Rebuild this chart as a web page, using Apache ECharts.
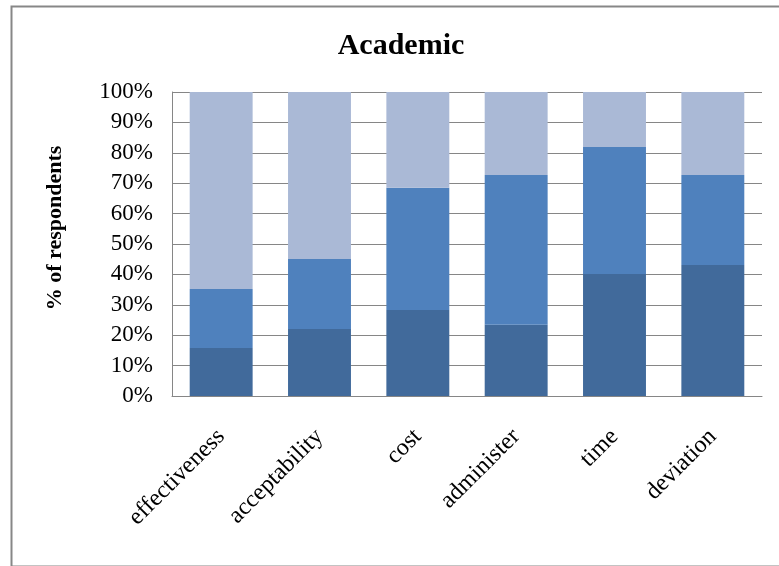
<!DOCTYPE html>
<html>
<head>
<meta charset="utf-8">
<style>
  html, body { margin: 0; padding: 0; background: #ffffff; }
  #chart { width: 779px; height: 566px; }
</style>
<script src="https://cdn.jsdelivr.net/npm/echarts@6/dist/echarts.min.js"></script>
</head>
<body>
<div id="chart"></div>
<script>
// Share of respondents per criterion, split into three stacked response groups
const categories = ['effectiveness', 'acceptability', 'cost', 'administer', 'time', 'deviation'];
const groupLow  = [15.8, 22.0, 28.3, 23.4, 40.1, 43.1];
const groupMid  = [19.4, 23.1, 40.2, 49.3, 41.8, 29.6];
const groupHigh = [64.8, 54.9, 31.5, 27.3, 18.1, 27.3];
const yTicks = [0, 10, 20, 30, 40, 50, 60, 70, 80, 90, 100];

const serif = "'Liberation Serif', 'Times New Roman', serif";
const gridGray = '#868686';

const chart = echarts.init(document.getElementById('chart'), null, { renderer: 'canvas' });

function stack(name, data, color) {
  return {
    name: name,
    type: 'bar',
    stack: 'total',
    data: data,
    barWidth: '64%',
    itemStyle: { color: color },
    emphasis: { disabled: true }
  };
}

chart.setOption({
  animation: false,
  backgroundColor: '#ffffff',
  title: {
    text: 'Academic',
    left: 396,
    top: 26,
    textAlign: 'center',
    textStyle: { fontFamily: serif, fontWeight: 'bold', fontSize: 30, color: '#000000' }
  },
  graphic: [{
    type: 'rect',
    left: 9,
    top: 4,
    shape: { width: 790, height: 560 },
    style: { fill: 'none', stroke: '#878787', lineWidth: 2 },
    silent: true
  }],
  grid: { left: 172, right: 17, top: 92, bottom: 170, containLabel: false },
  xAxis: {
    type: 'category',
    data: categories,
    axisLine: { show: true, lineStyle: { color: gridGray, width: 1 } },
    axisTick: { show: false },
    axisLabel: {
      rotate: 45,
      margin: 37,
      interval: 0,
      fontFamily: serif,
      fontSize: 24,
      color: '#000000'
    }
  },
  yAxis: {
    type: 'value',
    min: yTicks[0],
    max: yTicks[yTicks.length - 1],
    interval: yTicks[1] - yTicks[0],
    name: '% of respondents',
    nameLocation: 'middle',
    nameGap: 106,
    nameTextStyle: {
      fontFamily: serif,
      fontWeight: 'bold',
      fontSize: 22,
      color: '#000000',
      padding: [0, 0, 0, 32]
    },
    axisLine: { show: true, lineStyle: { color: gridGray, width: 1 } },
    axisTick: { show: false },
    splitLine: { show: true, lineStyle: { color: gridGray, width: 1 } },
    axisLabel: {
      margin: 19,
      formatter: '{value}%',
      fontFamily: serif,
      fontSize: 23,
      color: '#000000'
    }
  },
  series: [
    stack('Low', groupLow, '#416a9b'),
    stack('Mid', groupMid, '#4f81bd'),
    stack('High', groupHigh, '#aab9d6')
  ]
});
</script>
</body>
</html>
